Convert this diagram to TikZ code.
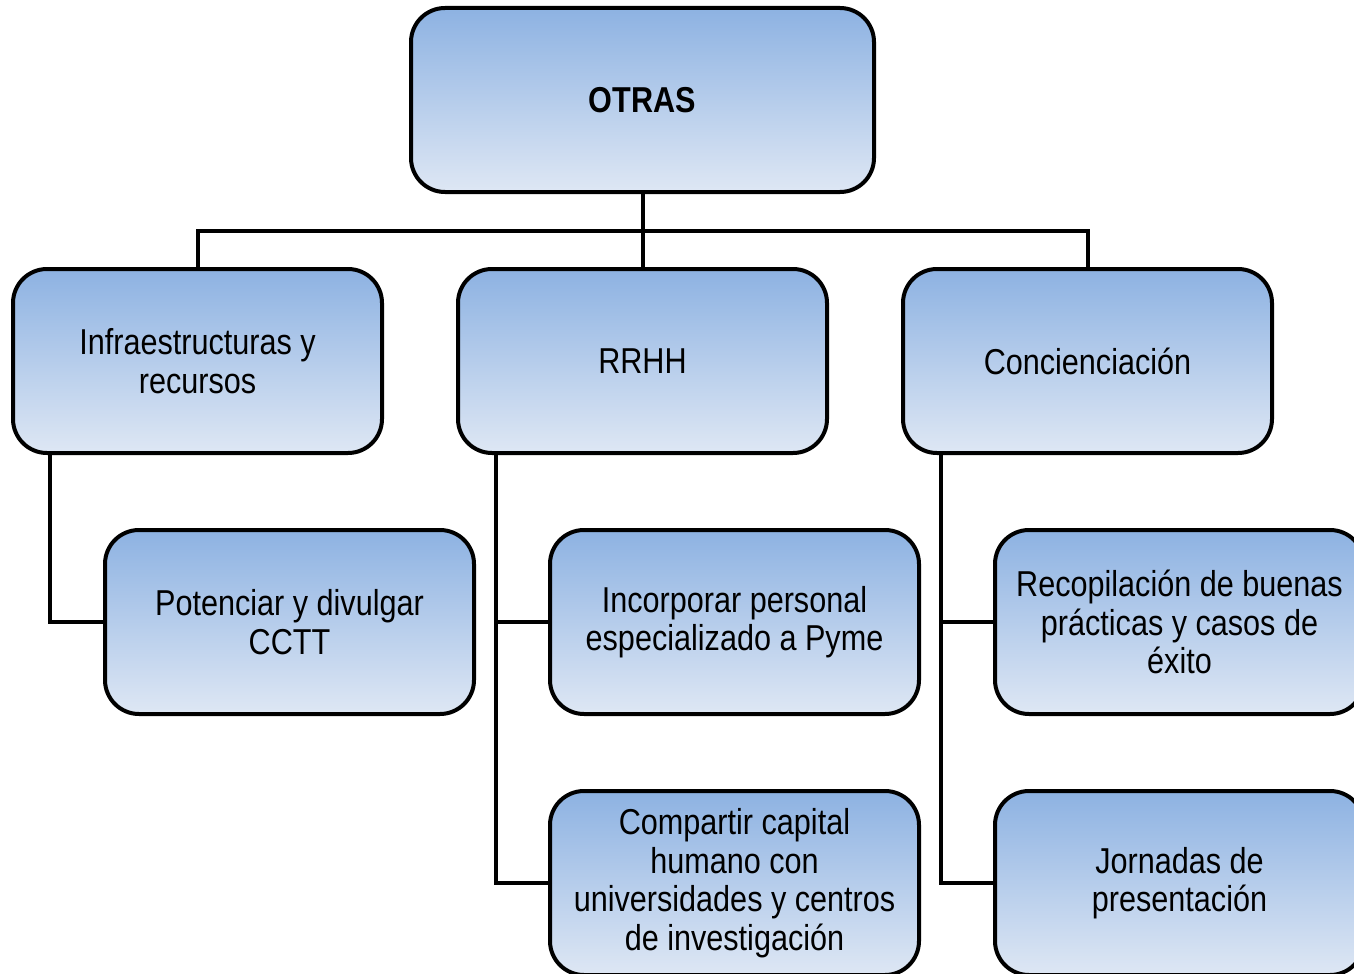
\documentclass[tikz,border=0pt]{standalone}
\usepackage{fontspec}
\setmainfont{Liberation Sans}[FakeStretch=0.85]
\begin{document}
\begin{tikzpicture}[x=1pt,y=-1pt,
  box/.style={draw=black, line width=4pt, rounded corners=34pt,
    top color=topblue, bottom color=botblue,
    minimum width=369pt, minimum height=184pt, align=center,
    font=\fontsize{36}{38.5}\selectfont, inner sep=0pt},
  link/.style={line width=4pt, draw=black}]
\definecolor{topblue}{RGB}{141,178,226}
\definecolor{botblue}{RGB}{222,231,244}
\useasboundingbox (0,0) rectangle (1354,974);
\node[box, minimum width=463pt, font=\fontsize{36}{38.5}\selectfont\bfseries] (otras) at (642.5,100) {OTRAS};
\node[box] (infra) at (197.5,361) {Infraestructuras y\\recursos};
\node[box] (rrhh) at (642.5,361) {RRHH};
\node[box] (conc) at (1087.5,361) {Concienciación};
\node[box] (pot) at (289.5,622) {Potenciar y divulgar\\CCTT};
\node[box] (inc) at (734.5,622) {Incorporar personal\\especializado a Pyme};
\node[box] (rec) at (1179.5,622) {Recopilación de buenas\\prácticas y casos de\\éxito};
\node[box] (comp) at (734.5,883) {Compartir capital\\humano con\\universidades y centros\\de investigación};
\node[box] (jor) at (1179.5,883) {Jornadas de\\presentación};
\coordinate (bus) at (642.5,231);
\draw[link] (otras.south) -- (bus);
\draw[link] (infra.north) -- (infra.north |- bus) -- (conc.north |- bus) -- (conc.north);
\draw[link] (rrhh.north) -- (bus);
\coordinate (ia) at (50,453);
\coordinate (ra) at (496,453);
\coordinate (ca) at (941,453);
\draw[link] (ia) -- (ia |- pot.west) -- (pot.west);
\draw[link] (ra) -- (ra |- comp.west) -- (comp.west);
\draw[link] (ra |- inc.west) -- (inc.west);
\draw[link] (ca) -- (ca |- jor.west) -- (jor.west);
\draw[link] (ca |- rec.west) -- (rec.west);
\end{tikzpicture}
\end{document}
